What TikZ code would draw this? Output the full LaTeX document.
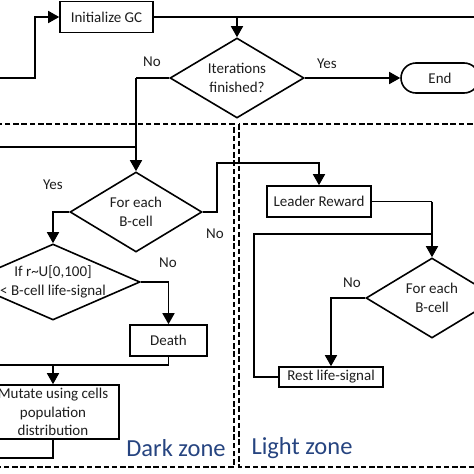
\documentclass[tikz,border=0pt]{standalone}
\usepackage{fontspec}
\setmainfont{Carlito}
\usetikzlibrary{arrows.meta,shapes.geometric,shapes.misc}
\definecolor{zoneblue}{RGB}{38,68,128}
\definecolor{ink}{RGB}{30,30,30}
\begin{document}
\begin{tikzpicture}[x=1pt,y=-1pt,
  font=\fontsize{15}{18.5}\selectfont, text=ink,
  conn/.style={draw=black,line width=1.6pt},
  arr/.style={conn,-{Triangle[length=11pt,width=12pt]}},
  procbox/.style={draw=black,line width=1.6pt,rectangle,inner sep=0pt,align=center,fill=white},
  dia/.style={draw=black,line width=1.6pt,diamond,inner sep=0pt,fill=white},
  lbl/.style={inner sep=0pt},
  zone/.style={draw=black,line width=2pt,dash pattern=on 5.5pt off 2.8pt},
  zonetext/.style={text=zoneblue,font=\fontsize{24.5}{28}\selectfont,inner sep=0pt}]
\clip (0,0) rectangle (474,474);
% zones
\draw[zone] (-10,124) rectangle (234,467);
\draw[zone] (239,124) rectangle (490,467);
\node[zonetext] (dz) at (176,448) {Dark zone};
\node[zonetext] (lz) at (302,448) {Light zone};
% nodes
\node[procbox,minimum width=93pt,minimum height=31pt] (init) at (106.5,17) {Initialize GC};
\node[dia,minimum width=134pt,minimum height=80pt,label={[align=center,lbl]center:Iterations\\finished?}] (iter) at (237,78) {};
\node[draw=black,line width=1.6pt,rounded rectangle,minimum width=78pt,minimum height=30pt,inner sep=0pt] (endn) at (440,78) {End};
\node[dia,minimum width=132pt,minimum height=80pt,label={[align=center,lbl]center:For each\\B-cell}] (fe1) at (136,212) {};
\node[dia,minimum width=174pt,minimum height=76pt,label={[align=center,lbl]center:If r\textasciitilde U[0,100]\\< B-cell life-signal}] (ifd) at (53,282) {};
\node[procbox,minimum width=77pt,minimum height=31pt] (death) at (168.5,340.5) {Death};
\node[procbox,minimum width=132pt,minimum height=54pt] (mut) at (53,412) {Mutate using cells\\population\\distribution};
\node[procbox,minimum width=104pt,minimum height=31pt] (lead) at (319,201.5) {Leader Reward};
\node[dia,minimum width=132pt,minimum height=80pt,label={[align=center,lbl]center:For each\\B-cell}] (fe2) at (432,298) {};
\node[procbox,minimum width=104pt,minimum height=20pt] (rest) at (331,377) {Rest life-signal};
% labels
\node[lbl] (lno1) at (152,62) {No};
\node[lbl] (lyes1) at (327,64) {Yes};
\node[lbl] (lyes2) at (53,185) {Yes};
\node[lbl] (lno2) at (215,234) {No};
\node[lbl] (lno3) at (168,263) {No};
\node[lbl] (lno4) at (352,283) {No};
% coordinates
\coordinate (inA) at (-5,78);
\coordinate (inB) at (35,78);
\coordinate (topR) at (480,17);
\coordinate (j1) at (237,17);
\coordinate (loopL) at (-5,147);
\coordinate (j2) at (136,147);
\coordinate (c1) at (136,78);
\coordinate (d1) at (168.5,365);
\coordinate (d0) at (-5,365);
\coordinate (j3) at (53,365);
\coordinate (m1) at (53,458);
\coordinate (m0) at (-5,458);
\coordinate (f1) at (217,212);
\coordinate (f2) at (217,163);
\coordinate (l1) at (432,201.5);
\coordinate (r1) at (254,377);
\coordinate (r2) at (254,234);
\coordinate (r3) at (432,234);
% connectors
\draw[arr] (inA) -- (inB) |- (init.west);
\draw[conn] (init.east) -- (topR);
\draw[arr] (j1) -- (iter.north);
\draw[arr] (iter.east) -- (endn.west);
\draw[conn] (iter.west) -- (c1);
\draw[arr] (c1) -- (fe1.north);
\draw[conn] (loopL) -- (j2);
\draw[arr] (fe1.west) -| (ifd.north);
\draw[arr] (ifd.east) -| (death.north);
\draw[conn] (death.south) -- (d1) -- (d0);
\draw[arr] (j3) -- (mut.north);
\draw[conn] (mut.south) -- (m1) -- (m0);
\draw[arr] (fe1.east) -- (f1) -- (f2) -| (lead.north);
\draw[conn] (lead.east) -- (l1);
\draw[arr] (l1) -- (fe2.north);
\draw[arr] (fe2.west) -| (rest.north);
\draw[conn] (rest.west) -- (r1) -- (r2) -- (r3);
\end{tikzpicture}
\end{document}
